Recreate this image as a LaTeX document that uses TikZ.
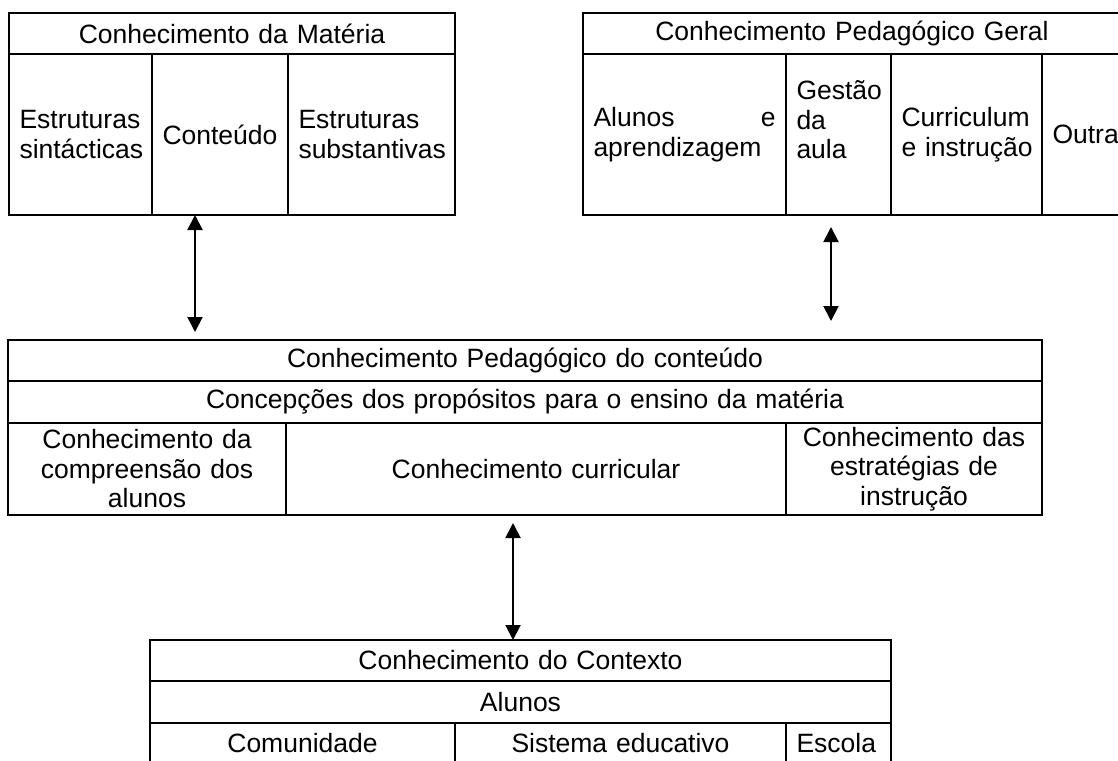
\documentclass[tikz,border=0pt]{standalone}
\usepackage{fontspec}
\setmainfont{Liberation Sans}
\usetikzlibrary{arrows.meta}
\tikzset{
  cellbox/.style={draw, line width=1pt, inner sep=0pt, outer sep=0pt, align=center},
  lft/.style={align=left},
  arr/.style={{Triangle[width=7.5pt,length=7.5pt]}-{Triangle[width=7.5pt,length=7.5pt]}, line width=1pt}
}
\begin{document}
\begin{tikzpicture}[x=0.5pt,y=-0.5pt,font=\fontsize{13.25pt}{14.75pt}\selectfont]
\useasboundingbox (0,0) rectangle (1118,760);
\clip (0,0) rectangle (1118,760);
\foreach \xa/\ya/\xb/\yb/\nm/\op/\txt in {
  9/13/455/54/mat//{Conhecimento da Matéria},
  9/54/152/215/sint/lft/{Estruturas\\sintácticas},
  152/54/288/215/cont/lft/{Conteúdo},
  288/54/455/215/subs/lft/{Estruturas\\substantivas},
  583/13/1121/54/pg//{Conhecimento Pedagógico Geral},
  583/54/786/215/alap/lft/{Alunos\hfill e\\aprendizagem},
  786/54/891/215/gest/lft/{Gestão\\da\\aula\\\mbox{}},
  891/54/1042/215/curr/lft/{Curriculum\\\mbox{e instrução}},
  1042/54/1121/215/outr/lft/{Outra},
  8/340/1042/381/cpc//{Conhecimento Pedagógico do conteúdo},
  8/381/1042/423/conc//{Concepções dos propósitos para o ensino da matéria},
  8/423/286/515/comp//{Conhecimento da\\compreensão dos\\alunos},
  286/423/786/515/curric//{Conhecimento curricular},
  786/423/1042/515/estr//{Conhecimento das\\estratégias de\\instrução},
  150/640/891/681/ctx//{Conhecimento do Contexto},
  150/681/891/723/alun//{Alunos},
  150/723/455/763/comu//{Comunidade},
  455/723/786/763/sist//{Sistema educativo},
  786/723/891/763/esco/lft/{Escola}}
  {\node[cellbox, \op, minimum width={(\xb-\xa)*0.5pt}, minimum height={(\yb-\ya)*0.5pt},
     text width={(\xb-\xa-21)*0.5pt}] (\nm) at ({(\xa+\xb)/2},{(\ya+\yb)/2}) {\txt};}
\coordinate (a1) at ([xshift=-12.5pt]cont.south);
\coordinate (a2) at ([xshift=-3.75pt]gest.south);
\coordinate (a3) at ([xshift=-11.5pt]curric.south);
\draw[arr, shorten >=4pt] (a1) -- (a1 |- cpc.north);
\draw[arr, shorten <=6pt, shorten >=9.5pt] (a2) -- (a2 |- cpc.north);
\draw[arr, shorten <=4pt] (a3) -- (a3 |- ctx.north);
\end{tikzpicture}
\end{document}
